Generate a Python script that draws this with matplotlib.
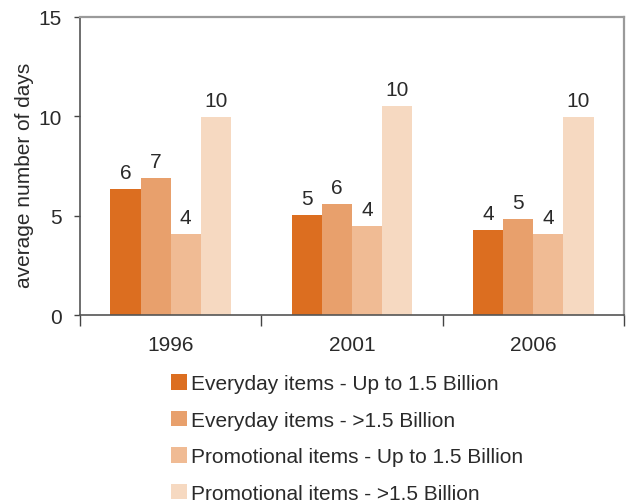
import matplotlib
matplotlib.use("Agg")
import matplotlib.pyplot as plt
import numpy as np
from matplotlib.patches import Patch

plt.rcParams['font.family'] = ['Liberation Sans', 'DejaVu Sans']

years = ["1996", "2001", "2006"]
series_names = [
    "Everyday items - Up to 1.5 Billion",
    "Everyday items - >1.5 Billion",
    "Promotional items - Up to 1.5 Billion",
    "Promotional items - >1.5 Billion",
]
everyday_small = [6.34, 5.03, 4.29]
everyday_large = [6.90, 5.59, 4.83]
promo_small = [4.08, 4.48, 4.08]
promo_large = [9.96, 10.52, 9.96]
label_everyday_small = ["6", "5", "4"]
label_everyday_large = ["7", "6", "5"]
label_promo_small = ["4", "4", "4"]
label_promo_large = ["10", "10", "10"]
yticks = [0, 5, 10, 15]

values = [everyday_small, everyday_large, promo_small, promo_large]
labels = [label_everyday_small, label_everyday_large, label_promo_small, label_promo_large]
colors = ["#DC6E20", "#E8A06C", "#F0BB94", "#F6D9C1"]
text_color = "#2a2a2a"
fs = 15

fig = plt.figure(figsize=(6.26, 5.02), dpi=100)
ax = fig.add_axes([80/626, 1-316/502, 544/626, 298/502])

x = np.arange(len(years))
w = 0.166
for i, (vals, labs, c) in enumerate(zip(values, labels, colors)):
    pos = x + (i - 1.5) * w
    ax.bar(pos, vals, width=w, color=c, edgecolor='none', zorder=2)
    for px, v, t in zip(pos, vals, labs):
        ax.annotate(t, (px, v), xytext=(0, 5), textcoords='offset points',
                    ha='center', va='bottom', fontsize=fs, color=text_color)

ax.set_xlim(-0.5, len(years) - 0.5)
ax.set_ylim(0, 15)
ax.set_yticks(yticks)
ax.set_yticklabels([str(t) for t in yticks])
ax.tick_params(axis='y', length=4, width=1, color='#444444', pad=9,
               labelsize=fs, labelcolor=text_color, direction='out')
ax.set_xticks(x)
ax.set_xticklabels(years)
ax.tick_params(axis='x', which='major', length=0, pad=14.5, labelsize=fs,
               labelcolor=text_color)
ax.set_xticks(np.arange(-0.5, len(years)), minor=True)
ax.tick_params(axis='x', which='minor', length=8, width=1, color='#444444',
               direction='out')

for s in ['left', 'bottom']:
    ax.spines[s].set_color('#555555')
    ax.spines[s].set_linewidth(1.2)
for s in ['top', 'right']:
    ax.spines[s].set_color('#9a9a9a')
    ax.spines[s].set_linewidth(1.6)

ax.set_ylabel("average number of days", fontsize=fs, color=text_color)
ax.yaxis.set_label_coords((34 - 80) / 544, (316 - 175) / 298)

handles = [Patch(facecolor=c, edgecolor='none') for c in colors]
fig.legend(handles, series_names, loc='upper left',
           bbox_to_anchor=(171/626, 1-375/502), frameon=False,
           fontsize=fs, handlelength=0.77, handleheight=0.77, handletextpad=0.18,
           labelspacing=0.84, labelcolor=text_color, borderaxespad=0, borderpad=0)

fig.savefig("out.png", dpi=100)
